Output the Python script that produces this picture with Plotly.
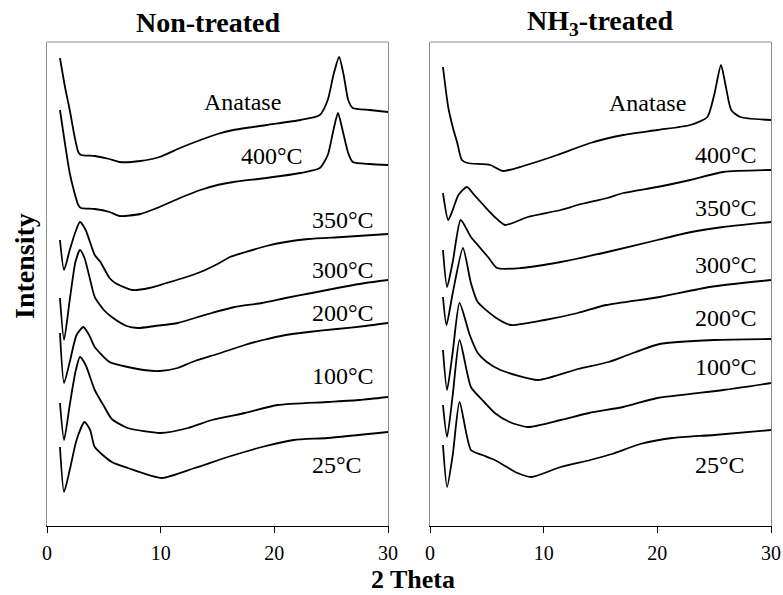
import plotly.graph_objects as go

# ---------------- data (2 theta, intensity in arbitrary units) ----------------
# Non-treated panel
nt_anatase_x = [1.14, 1.6, 2.0, 2.4, 2.75, 3.0, 4.2, 5.5, 6.4, 8.2, 9.9, 11.7, 13.5, 15.0, 16.4, 19.3, 22.3, 24.0, 24.7, 25.2, 25.7, 26.1, 26.5, 26.9, 28.4, 30.0]
nt_anatase_y = [468, 438, 416, 391, 374, 371, 370, 367, 364, 365, 369, 378, 386, 392, 396, 401, 406, 411, 426, 451, 469, 451, 426, 418, 416, 414]
nt_400_x = [1.14, 1.6, 2.0, 2.4, 2.75, 3.0, 4.2, 5.5, 6.4, 8.2, 9.9, 11.7, 13.5, 15.0, 16.4, 19.3, 22.3, 24.0, 24.7, 25.2, 25.6, 26.0, 26.5, 26.9, 28.4, 30.0]
nt_400_y = [416, 381, 353, 334, 321, 318, 317, 314, 310, 312, 319, 328, 336, 341, 344, 348, 353, 358, 371, 396, 413, 396, 373, 364, 362, 361]
nt_350_x = [1.14, 1.5, 2.0, 2.5, 2.9, 3.4, 4.2, 4.7, 5.5, 6.0, 7.5, 9.0, 10.5, 12.0, 13.5, 15.0, 16.1, 17.5, 19.3, 21.0, 23.0, 26.0, 30.0]
nt_350_y = [286, 256, 276, 294, 304, 296, 271, 264, 248, 243, 236, 238, 243, 248, 254, 262, 269, 274, 280, 284, 287, 289, 292]
nt_300_x = [1.14, 1.5, 2.0, 2.5, 2.9, 3.3, 3.8, 4.2, 5.0, 5.7, 7.0, 8.0, 9.5, 11.5, 13.0, 14.5, 16.5, 18.9, 21.0, 23.3, 26.0, 28.0, 30.0]
nt_300_y = [228, 186, 226, 264, 276, 268, 246, 229, 216, 209, 200, 198, 200, 203, 208, 213, 219, 223, 228, 233, 239, 243, 246]
nt_200_x = [1.14, 1.5, 2.0, 2.6, 3.2, 3.7, 4.2, 5.5, 7.1, 8.5, 9.9, 11.5, 13.0, 15.0, 17.4, 19.0, 21.0, 23.0, 25.5, 28.0, 30.0]
nt_200_y = [193, 143, 164, 191, 199, 191, 179, 164, 159, 156, 155, 158, 165, 172, 181, 186, 191, 194, 197, 200, 203]
nt_100_x = [1.14, 1.5, 2.0, 2.5, 2.9, 3.4, 4.2, 5.0, 5.7, 7.1, 10.0, 12.4, 14.5, 17.4, 20.3, 24.7, 27.5, 30.0]
nt_100_y = [123, 86, 121, 154, 169, 161, 136, 120, 107, 98, 93, 98, 106, 113, 121, 124, 126, 129]
nt_25_x = [1.14, 1.5, 2.0, 2.6, 3.3, 3.8, 4.2, 5.7, 7.1, 10.1, 13.0, 15.9, 18.9, 21.7, 24.7, 30.0]
nt_25_y = [79, 34, 56, 86, 104, 96, 79, 64, 58, 48, 58, 69, 79, 86, 88, 94]

# NH3-treated panel
nh_anatase_x = [1.14, 1.6, 2.0, 2.4, 2.8, 3.3, 5.3, 6.4, 8.2, 11.2, 14.1, 17.0, 20.0, 22.9, 24.4, 25.0, 25.6, 26.0, 26.5, 27.3, 30.0]
nh_anatase_y = [459, 419, 399, 383, 366, 363, 361, 355, 360, 371, 383, 391, 396, 401, 409, 431, 461, 441, 416, 409, 406]
nh_400_x = [1.14, 1.6, 2.0, 2.5, 3.25, 3.9, 4.7, 5.7, 6.6, 8.6, 11.5, 13.0, 15.6, 17.0, 20.0, 22.9, 25.8, 30.0]
nh_400_y = [333, 306, 316, 331, 339, 331, 321, 309, 301, 309, 316, 321, 328, 333, 339, 346, 354, 356]
nh_350_x = [1.14, 1.5, 2.0, 2.7, 3.6, 4.2, 5.1, 5.9, 8.0, 11.5, 15.6, 20.0, 23.0, 25.8, 30.0]
nh_350_y = [276, 239, 264, 306, 289, 281, 269, 258, 258, 264, 274, 286, 294, 299, 304]
nh_300_x = [1.14, 1.45, 2.0, 2.9, 3.6, 4.2, 5.7, 7.1, 10.1, 13.0, 15.5, 20.2, 24.6, 30.0]
nh_300_y = [229, 201, 233, 278, 243, 224, 209, 201, 206, 213, 221, 229, 239, 246]
nh_200_x = [1.14, 1.5, 2.0, 2.6, 3.5, 4.2, 5.0, 6.2, 9.5, 13.0, 15.7, 17.4, 20.2, 25.0, 30.0]
nh_200_y = [176, 136, 174, 223, 191, 173, 164, 156, 146, 157, 164, 171, 182, 186, 187]
nh_100_x = [1.14, 1.5, 2.0, 2.6, 3.6, 4.6, 5.7, 7.0, 8.6, 11.5, 14.0, 17.0, 20.0, 25.8, 30.0]
nh_100_y = [121, 89, 131, 186, 139, 126, 113, 104, 99, 106, 113, 119, 128, 136, 143]
nh_25_x = [1.14, 1.5, 2.0, 2.6, 3.6, 4.6, 5.7, 7.7, 8.9, 11.5, 14.1, 16.0, 18.5, 21.3, 25.0, 30.0]
nh_25_y = [81, 39, 71, 124, 76, 71, 66, 53, 49, 59, 66, 72, 82, 88, 91, 96]

series_labels = ["Anatase", "400°C", "350°C", "300°C", "200°C", "100°C", "25°C"]
panel_titles = ["<b>Non-treated</b>", "<b>NH<sub>3</sub>-treated</b>"]
x_ticks = [0, 10, 20, 30]

nt_series = [(nt_anatase_x, nt_anatase_y), (nt_400_x, nt_400_y), (nt_350_x, nt_350_y),
             (nt_300_x, nt_300_y), (nt_200_x, nt_200_y), (nt_100_x, nt_100_y), (nt_25_x, nt_25_y)]
nh_series = [(nh_anatase_x, nh_anatase_y), (nh_400_x, nh_400_y), (nh_350_x, nh_350_y),
             (nh_300_x, nh_300_y), (nh_200_x, nh_200_y), (nh_100_x, nh_100_y), (nh_25_x, nh_25_y)]

# label anchor positions (x in 2theta, y in intensity units)
nt_label_pos = [(17.2, 424), (19.8, 370), (26.0, 306), (26.0, 256), (26.0, 213), (26.0, 150), (25.5, 61)]
nh_label_pos = [(19.1, 423), (26.0, 371), (26.0, 318), (26.0, 261), (26.0, 208), (26.0, 159), (25.5, 61)]

W, H = 783, 595
FONT = "Liberation Serif, Times New Roman, serif"

fig = go.Figure()
for (xs, ys), lab in zip(nt_series, series_labels):
    fig.add_trace(go.Scatter(x=xs, y=ys, mode="lines", name=lab, xaxis="x", yaxis="y",
                             line=dict(color="black", width=1.8, shape="spline", smoothing=0.6)))
for (xs, ys), lab in zip(nh_series, series_labels):
    fig.add_trace(go.Scatter(x=xs, y=ys, mode="lines", name=lab, xaxis="x2", yaxis="y2",
                             line=dict(color="black", width=1.8, shape="spline", smoothing=0.6)))

px_l = (47, 388)
px_r = (430, 771)
py_top, py_bot = 42, 526
ydom = [(H - py_bot) / H, (H - py_top) / H]

def xax(dom, anchor):
    return dict(domain=[dom[0] / W, dom[1] / W], range=[0, 30], tickvals=x_ticks,
                ticks="outside", ticklen=6, tickcolor="black", tickwidth=1,
                showline=True, linecolor="black", linewidth=1, showgrid=False, zeroline=False,
                tickfont=dict(family=FONT, size=20, color="black"), anchor=anchor,
                ticklabelstandoff=3, automargin=False)

def yax(anchor):
    return dict(domain=ydom, range=[0, 484], showticklabels=False, ticks="",
                showline=True, linecolor="#8c8c8c", linewidth=1, mirror=True,
                showgrid=False, zeroline=False, anchor=anchor, automargin=False)

fig.update_layout(
    width=W, height=H, margin=dict(l=0, r=0, t=0, b=0, autoexpand=False),
    paper_bgcolor="white", plot_bgcolor="white", showlegend=False,
    xaxis=xax(px_l, "y"), xaxis2=xax(px_r, "y2"),
    yaxis=yax("x"), yaxis2=yax("x2"),
)

shapes = []
for dom in (px_l, px_r):
    shapes.append(dict(type="line", xref="paper", yref="paper", x0=dom[0] / W, x1=dom[1] / W,
                       y0=ydom[1], y1=ydom[1], line=dict(color="#8c8c8c", width=1)))
fig.update_layout(shapes=shapes)

LBL = dict(family=FONT, size=24, color="black")
TTL = dict(family=FONT, size=28, color="black")
ann = []
for (x, y), lab in zip(nt_label_pos, series_labels):
    ann.append(dict(x=x, y=y, xref="x", yref="y", text=lab, showarrow=False,
                    xanchor="center", yanchor="middle", font=LBL))
for (x, y), lab in zip(nh_label_pos, series_labels):
    ann.append(dict(x=x, y=y, xref="x2", yref="y2", text=lab, showarrow=False,
                    xanchor="center", yanchor="middle", font=LBL))
ann.append(dict(x=208 / W, y=1 - 23 / H, xref="paper", yref="paper", text=panel_titles[0],
                showarrow=False, xanchor="center", yanchor="middle", font=TTL))
ann.append(dict(x=600 / W, y=1 - 23 / H, xref="paper", yref="paper", text=panel_titles[1],
                showarrow=False, xanchor="center", yanchor="middle", font=TTL))
ann.append(dict(x=413 / W, y=0, xref="paper", yref="paper", text="<b>2 Theta</b>",
                showarrow=False, xanchor="center", yanchor="bottom", borderpad=0,
                font=dict(family=FONT, size=26, color="black")))
ann.append(dict(x=24 / W, y=1 - 266 / H, xref="paper", yref="paper", text="<b>Intensity</b>",
                showarrow=False, textangle=-90, xanchor="center", yanchor="middle", font=TTL))
fig.update_layout(annotations=ann)

fig.write_html("out.html", config={"displayModeBar": False})

# remove the browser's default page margin so the figure sits at the window's corner
with open("out.html", "r", encoding="utf-8") as f:
    html = f.read()
html = html.replace("<head>", "<head><style>html,body{margin:0;padding:0;overflow:hidden;}</style>", 1)
with open("out.html", "w", encoding="utf-8") as f:
    f.write(html)
